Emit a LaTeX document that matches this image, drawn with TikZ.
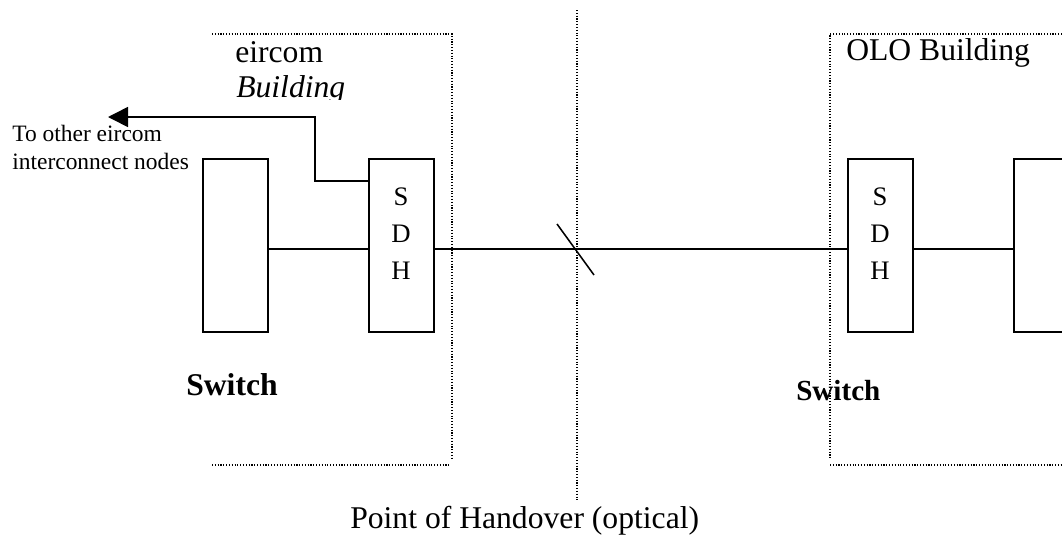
\documentclass[tikz,border=0pt]{standalone}
\usepackage{fontspec}
\setmainfont{Liberation Serif}
\usetikzlibrary{arrows.meta}

\begin{document}
\begin{tikzpicture}[x=0.025cm,y=-0.025cm,
    unit/.style={draw,line width=1.1pt,minimum width=1.625cm,minimum height=4.325cm,inner sep=0pt},
    wall/.style={line width=0.9pt,dash pattern=on 0.8pt off 1.2pt},
    big/.style={font=\fontsize{22.5}{25.6}\selectfont,inner sep=0pt},
    letters/.style={font=\fontsize{19}{26.3}\selectfont,inner sep=0pt,align=center}]
\useasboundingbox (0,0) rectangle (1062,534);
\clip (0,0) rectangle (1062,534);
\draw[wall] (212,34)--(452,34)--(452,458);
\draw[wall] (212,465)--(450,465);
\draw[wall] (1062,34)--(830,34)--(830,458);
\draw[wall] (830,465)--(1062,465);
\draw[wall] (577,10)--(577,502);

\node [unit] (sw1) at (235.5,245.5) {};
\node [unit] (sdh1) at (401.5,245.5) {};
\node [unit] (sdh2) at (880.5,245.5) {};
\node [unit] (sw2) at (1046.5,245.5) {};
\node [letters,anchor=north] (sdh1t) at (401,188) {S\\D\\H};
\node [letters,anchor=north] (sdh2t) at (880,188) {S\\D\\H};

\coordinate (hover) at (577,249);
\coordinate (others) at (108,117);
\draw[line width=1.1pt] (sw1.east |- hover) -- (sdh1.west |- hover);
\draw[line width=1.1pt] (sdh1.east |- hover) -- (sdh2.west |- hover);
\draw[line width=1.1pt] (sdh2.east |- hover) -- (sw2.west |- hover);
\draw[line width=1.1pt] (hover) ++(-20,-25) -- ++(37,51);
\draw[line width=1.1pt,-{Triangle[length=0.5cm,width=0.5cm]}]
    (sdh1.north west) ++(0,23) -- ++(-53,0) |- (others);

\node [big,anchor=base west] (eir) at (235,62) {eircom};
\begin{scope}
\clip (200,66) rectangle (420,99);
\node [big,anchor=base west] (eirb) at (236,97) {\itshape Building};
\end{scope}
\node [big,anchor=base west] (olo) at (846,60) {OLO Building};
\node [inner sep=0pt,anchor=north west,align=left,font=\fontsize{16.7}{20}\selectfont] (totxt) at (12,125)
    {To other eircom\\interconnect nodes};
\node [inner sep=0pt,anchor=base west,font=\fontsize{22.5}{26}\selectfont\bfseries] (sw1t) at (186,395) {Switch};
\node [inner sep=0pt,anchor=base west,font=\fontsize{20.7}{24}\selectfont\bfseries] (sw2t) at (796,400) {Switch};
\node [big,anchor=base west] (poh) at (350,528) {Point of Handover (optical)};
\end{tikzpicture}
\end{document}
